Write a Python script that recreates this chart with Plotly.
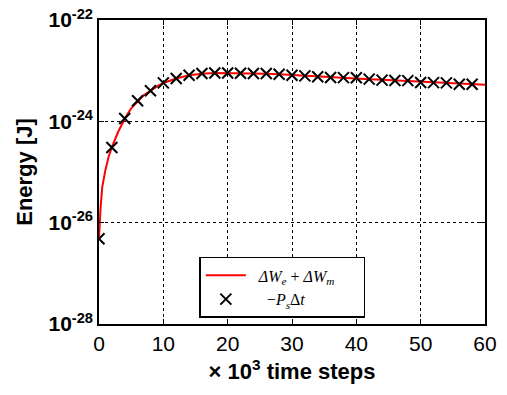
import plotly.graph_objects as go

# Line: Delta W_e + Delta W_m  (x in 10^3 time steps, energy in J)
line_x = [0, 0.1, 0.25, 0.5, 1, 1.5, 2, 3, 4, 5, 6, 7, 8, 9, 10, 12, 14, 16, 18, 20,
          22, 24, 26, 28, 30, 32, 34, 36, 38, 40, 42, 44, 46, 48, 50, 52, 54, 56, 58, 60]
line_y = [4.8e-27, 1.0e-26, 2.0e-26, 5.0e-26, 1.1e-25, 2.0e-25, 3.1e-25, 6.3e-25, 1.12e-24,
          1.8e-24, 2.5e-24, 3.3e-24, 4.0e-24, 4.9e-24, 5.7e-24, 7.0e-24, 8.1e-24, 8.7e-24,
          9.0e-24, 9.0e-24, 8.9e-24, 8.8e-24, 8.7e-24, 8.5e-24, 8.2e-24, 7.9e-24, 7.6e-24,
          7.4e-24, 7.2e-24, 7.0e-24, 6.8e-24, 6.6e-24, 6.4e-24, 6.2e-24, 6.0e-24, 5.8e-24,
          5.6e-24, 5.45e-24, 5.35e-24, 5.25e-24]

# Markers: -P_s * Delta t
mark_x = [0, 2, 4, 6, 8, 10, 12, 14, 16, 18, 20, 22, 24, 26, 28, 30, 32, 34, 36, 38,
          40, 42, 44, 46, 48, 50, 52, 54, 56, 58]
mark_y = [4.8e-27, 3.05e-25, 1.14e-24, 2.54e-24, 4.0e-24, 5.74e-24, 7.0e-24, 8.1e-24,
          8.8e-24, 9.0e-24, 9.0e-24, 8.9e-24, 8.8e-24, 8.8e-24, 8.5e-24, 8.1e-24, 7.9e-24,
          7.6e-24, 7.35e-24, 7.3e-24, 7.25e-24, 6.8e-24, 6.5e-24, 6.4e-24, 6.35e-24,
          5.85e-24, 5.8e-24, 5.75e-24, 5.4e-24, 5.4e-24]

x_ticks = [0, 10, 20, 30, 40, 50, 60]
y_tickvals = [1e-28, 1e-26, 1e-24, 1e-22]
y_ticktext = ["10<sup>-28</sup>", "10<sup>-26</sup>", "10<sup>-24</sup>", "10<sup>-22</sup>"]

legend_font = "Liberation Serif, DejaVu Serif, serif"
pad_l = "&nbsp;&nbsp;"
pad_r = "&nbsp;&nbsp;&nbsp;&nbsp;&nbsp;&nbsp;"

fig = go.Figure()
fig.add_trace(go.Scatter(
    x=line_x, y=line_y, mode="lines",
    line=dict(color="#ff0000", width=2),
    name=pad_l + "<i>ΔW<sub>e</sub></i> + <i>ΔW<sub>m</sub></i>" + pad_r,
))
fig.add_trace(go.Scatter(
    x=mark_x, y=mark_y, mode="markers",
    marker=dict(symbol="x-thin", size=11, line=dict(color="black", width=2), color="black"),
    name=pad_l + "&nbsp;&nbsp;−<i>P<sub>s</sub></i>Δ<i>t</i>",
))

axis_common = dict(
    showline=True, linecolor="black", linewidth=1.5, mirror="ticks",
    ticks="inside", ticklen=5, tickcolor="black", tickwidth=1,
    showgrid=True, gridcolor="black", griddash="dot", gridwidth=1,
    zeroline=False, automargin=False,
    tickfont=dict(family="Liberation Sans, Arial, sans-serif", size=21, color="black"),
)

fig.update_layout(
    width=507, height=395,
    margin=dict(l=99, r=22, t=20, b=71),
    paper_bgcolor="white", plot_bgcolor="white",
    font=dict(family="Liberation Sans, Arial, sans-serif", color="black"),
    xaxis=dict(
        range=[0, 60], tickvals=x_ticks, **axis_common,
        title=dict(text="<b>× 10<sup>3</sup> time steps</b>",
                   font=dict(size=22, color="black"), standoff=10),
        tickprefix="<b>", ticksuffix="</b>",
    ),
    yaxis=dict(
        type="log", range=[-28, -22], tickvals=y_tickvals, ticktext=["<b>" + t + "</b>" for t in y_ticktext],
        **axis_common,
        title=dict(text="<b>Energy [J]</b>", font=dict(size=22, color="black"), standoff=10),
    ),
    showlegend=True,
    legend=dict(
        x=0.475, y=0.02, xanchor="center", yanchor="bottom",
        bgcolor="white", bordercolor="black", borderwidth=1.5,
        font=dict(family=legend_font, size=16, color="black"),
        tracegroupgap=0, itemwidth=40,
    ),
)

fig.write_html("out.html", config={"displayModeBar": False},
               post_script="document.body.style.margin='0';")
